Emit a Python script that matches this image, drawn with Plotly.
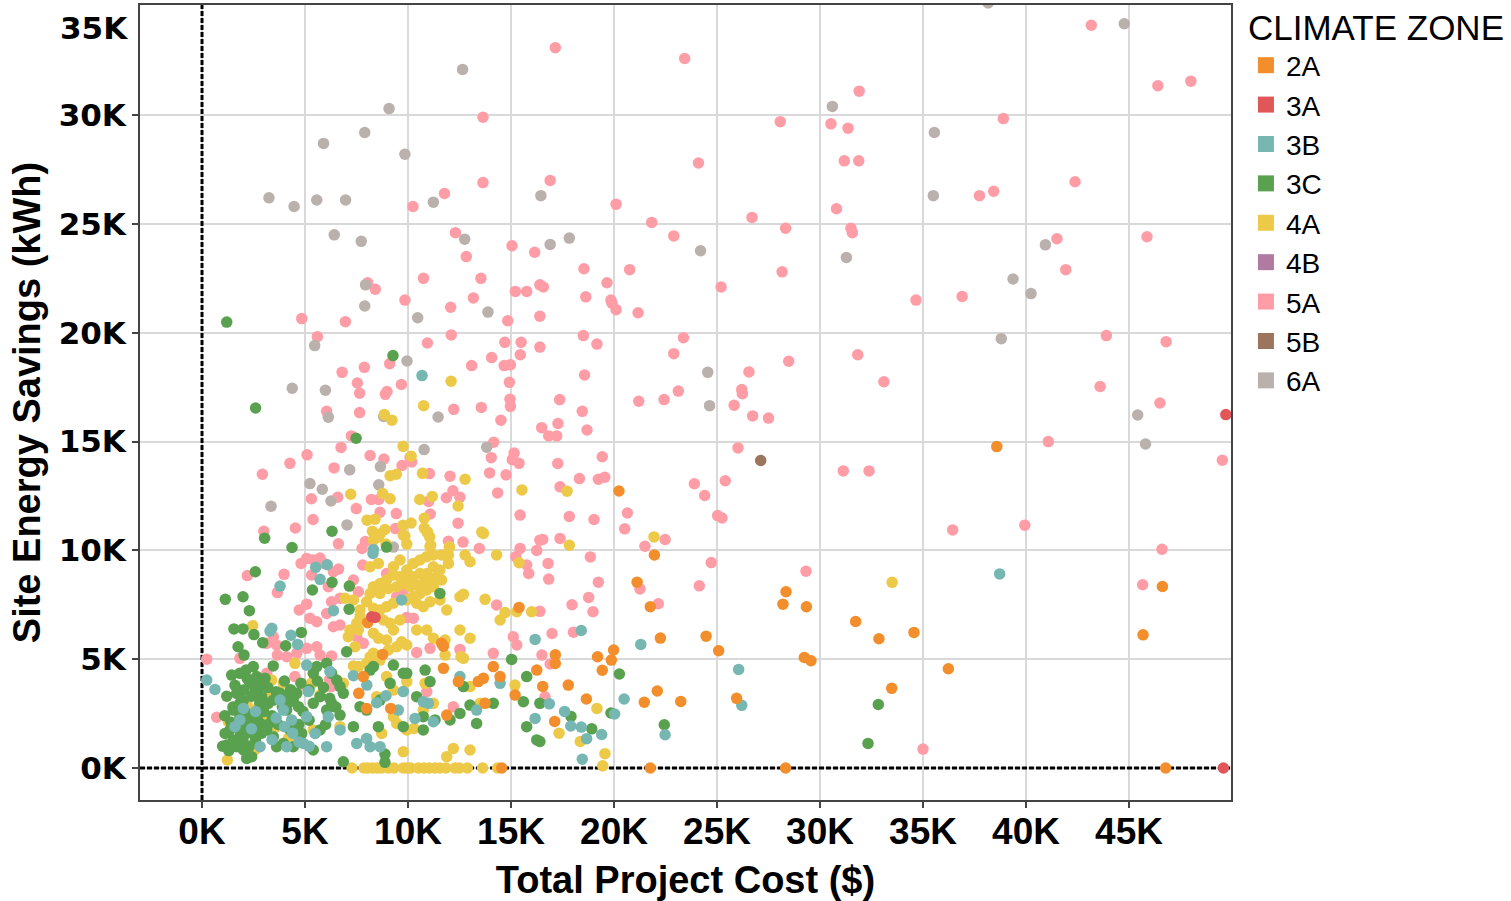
import plotly.graph_objects as go

# Site energy savings vs. total project cost, in thousands ($K, kWh K), by climate zone
zone_2a = [(38.58, 14.77), (46.62, 8.34), (45.68, 6.12), (36.23, 4.56), (46.78, 0.0), (20.24, 12.73),
           (21.96, 9.79), (21.12, 8.54), (28.35, 8.1), (28.2, 7.53), (29.34, 7.41), (21.76, 7.41),
           (31.73, 6.73), (32.86, 5.94), (34.56, 6.23), (22.25, 5.97), (24.47, 6.06), (25.08, 5.39),
           (17.15, 5.2), (17.15, 4.8), (19.2, 5.11), (19.98, 5.42), (19.87, 4.96), (19.43, 4.49),
           (29.24, 5.08), (29.56, 4.93), (33.48, 3.66), (16.54, 3.75), (17.78, 3.81), (18.66, 3.17),
           (22.1, 3.54), (23.24, 3.06), (21.47, 3.02), (25.95, 3.2), (17.12, 2.14), (21.76, 0.0),
           (28.33, 0.0), (15.39, 7.38), (8.04, 6.68), (11.63, 5.73), (11.72, 5.6), (8.77, 5.22),
           (11.72, 4.58), (14.14, 4.66), (14.47, 4.2), (13.66, 4.12), (13.41, 3.97), (12.44, 3.97),
           (15.2, 3.35), (13.74, 2.97), (11.88, 2.43), (9.16, 2.74), (7.99, 2.74), (7.61, 3.43),
           (7.83, 4.2), (16.25, 4.5), (14.55, 0.0)]

zone_3a = [(49.7, 16.24), (49.58, 0.0), (8.24, 6.95), (8.4, 6.92)]

zone_3b = [(10.68, 18.03), (38.72, 8.92), (18.41, 6.32), (21.3, 5.68), (26.05, 4.53), (20.49, 3.17),
           (26.2, 2.88), (16.86, 2.95), (17.6, 2.6), (20.03, 2.48), (17.9, 1.93), (18.41, 1.88),
           (19.4, 1.54), (18.67, 1.35), (22.48, 1.53), (18.46, 0.4), (8.32, 10.04), (8.3, 9.86),
           (5.52, 9.22), (6.08, 9.34), (5.73, 8.67), (3.79, 8.36), (6.38, 7.23), (3.39, 6.42),
           (3.3, 6.29), (4.32, 6.1), (4.64, 5.68), (9.69, 7.72), (0.23, 4.04), (0.63, 3.61),
           (5.08, 4.73), (5.16, 3.51), (6.21, 4.43), (7.35, 4.24), (8.0, 3.81), (8.48, 3.0),
           (8.93, 3.32), (9.77, 3.51), (10.74, 3.05), (10.99, 2.97), (11.23, 2.13), (10.34, 2.28),
           (9.53, 2.66), (12.52, 4.2), (13.33, 2.66), (14.47, 3.89), (16.17, 2.28), (16.17, 5.91),
           (3.79, 3.12), (3.95, 2.66), (4.35, 2.21), (5.08, 2.36), (5.49, 1.59), (6.13, 2.36),
           (6.7, 1.75), (6.05, 0.98), (4.92, 1.13), (4.11, 0.98), (2.82, 0.98), (1.84, 2.21),
           (2.01, 2.74), (1.6, 1.9), (7.51, 1.13), (8.16, 0.98), (8.64, 0.98), (7.99, 1.36),
           (4.0, 1.9), (4.4, 1.6), (4.7, 1.2), (5.2, 1.0), (3.6, 2.3), (3.4, 1.3), (2.6, 2.6),
           (2.4, 1.8)]

zone_3c = [(1.2, 20.49), (9.27, 18.95), (2.6, 16.54), (7.48, 15.15), (3.04, 10.56), (6.31, 10.88),
           (4.37, 10.13), (8.96, 10.15), (20.26, 4.32), (32.83, 2.92), (16.4, 2.97), (17.91, 2.37),
           (19.85, 2.53), (18.92, 1.8), (16.4, 1.22), (22.44, 1.99), (32.33, 1.13),
           (2.59, 9.02), (6.31, 8.53), (5.36, 8.18), (7.15, 8.36), (1.13, 7.75), (1.99, 7.87),
           (2.3, 7.23), (1.55, 6.39), (1.99, 6.39), (2.52, 6.13), (1.75, 5.57), (2.95, 5.76),
           (2.04, 5.19), (4.06, 5.62), (4.82, 6.23), (7.02, 5.34), (7.14, 7.3), (11.55, 8.02),
           (15.03, 4.99), (1.44, 4.27), (1.84, 4.35), (2.14, 4.5), (2.49, 4.66), (2.65, 4.2),
           (2.33, 3.89), (2.01, 3.58), (1.68, 3.43), (2.57, 3.58), (2.82, 3.74), (3.06, 4.12),
           (3.46, 4.69), (2.9, 3.28), (3.22, 2.97), (3.46, 3.12), (3.79, 3.43), (4.11, 3.28),
           (4.43, 3.12), (4.68, 2.82), (4.6, 3.43), (1.84, 2.97), (1.52, 2.66), (1.84, 2.36),
           (2.17, 2.51), (2.33, 2.13), (2.57, 2.36), (2.82, 2.05), (2.49, 1.75), (2.17, 1.59),
           (1.84, 1.44), (1.52, 1.29), (1.2, 1.06), (1.12, 1.59), (1.36, 1.75), (1.68, 0.98),
           (2.01, 0.83), (2.17, 0.44), (2.41, 0.52), (3.14, 1.75), (3.46, 1.44), (3.62, 0.98),
           (3.95, 1.13), (4.27, 1.75), (4.84, 1.59), (4.11, 2.66), (5.4, 2.97), (5.73, 3.28),
           (5.4, 4.35), (5.57, 4.66), (6.05, 4.81), (6.29, 4.35), (6.54, 4.04), (6.7, 3.74),
           (6.86, 3.43), (6.05, 2.66), (6.29, 2.97), (8.16, 4.5), (8.32, 4.66), (9.13, 3.89),
           (9.29, 4.73), (9.77, 4.35), (9.94, 4.35), (10.83, 4.5), (11.07, 3.97), (10.42, 3.28),
           (10.74, 2.36), (9.77, 1.9), (8.56, 1.9), (7.35, 1.9), (7.67, 2.82), (7.99, 2.66),
           (8.64, 3.12), (5.73, 1.75), (5.4, 0.83), (4.43, 0.98), (12.04, 2.21), (12.52, 2.51),
           (13.01, 2.89), (13.33, 2.05), (14.14, 2.97), (15.6, 3.05), (15.76, 1.9), (16.25, 1.29),
           (15.76, 4.2), (12.69, 3.74), (11.31, 2.21), (10.74, 1.75), (6.86, 0.29), (8.88, 0.26),
           (8.88, 0.64), (6.7, 2.43), (1.0, 1.0), (1.3, 0.8), (1.6, 1.1), (2.0, 1.2), (2.3, 1.0),
           (2.6, 1.3), (2.9, 1.6), (3.2, 2.0), (2.7, 2.2), (2.2, 2.0), (1.8, 1.8), (1.4, 2.1),
           (1.1, 2.4), (1.5, 2.8), (2.0, 3.1), (2.4, 3.3), (2.8, 3.0), (3.0, 2.6), (3.4, 2.4),
           (3.7, 2.0), (1.2, 3.3), (1.6, 3.8), (2.2, 4.1), (2.7, 4.0), (3.2, 3.7), (3.6, 3.5),
           (4.0, 4.0), (4.3, 3.6), (4.8, 3.9), (5.2, 3.6), (5.6, 4.0), (5.9, 3.7), (6.2, 3.2),
           (6.5, 2.8), (6.0, 2.0), (5.2, 2.2), (4.7, 2.0), (4.9, 2.6), (3.9, 2.8), (4.2, 3.0)]

zone_4a = [(17.72, 12.72), (17.83, 10.24), (21.94, 10.62), (33.5, 8.53), (19.17, 2.74), (18.36, 1.22),
           (17.33, 1.6), (19.56, 0.66), (19.45, 0.1), (12.09, 17.77), (8.85, 16.24), (9.22, 15.98),
           (10.76, 16.65), (9.76, 14.78), (10.15, 14.33), (10.7, 13.54), (9.13, 13.43), (9.43, 13.5),
           (12.77, 13.27), (15.53, 12.78), (7.22, 12.58), (8.77, 12.61), (9.13, 12.37), (10.57, 12.34),
           (11.18, 12.48), (12.43, 12.04), (10.79, 11.48), (8.01, 11.39), (8.4, 11.43), (9.76, 11.16),
           (10.15, 11.26), (10.79, 11.02), (8.27, 10.88), (8.88, 10.96), (8.56, 10.62), (9.77, 10.7),
           (10.94, 10.85), (11.05, 10.62), (11.07, 10.18), (12.01, 10.16), (13.58, 10.84),
           (7.28, 0.0), (7.86, 0.0), (8.04, 0.0), (8.28, 0.0), (8.51, 0.0), (8.72, 0.0), (9.05, 0.0),
           (9.32, 0.0), (9.77, 0.0), (9.94, 0.0), (10.13, 0.0), (10.5, 0.0), (10.78, 0.0), (11.04, 0.0),
           (11.31, 0.0), (11.55, 0.0), (11.84, 0.0), (12.28, 0.0), (12.49, 0.0), (12.88, 0.0),
           (13.62, 0.0), (14.35, 0.0),
           (8.64, 10.75), (8.32, 10.47), (8.93, 10.29), (9.85, 10.66), (9.94, 10.29), (10.94, 10.81),
           (11.1, 10.24), (12.01, 10.14), (11.96, 9.79), (12.77, 9.79), (13.01, 9.48), (13.66, 10.78),
           (14.3, 9.79), (15.39, 9.43), (8.16, 9.25), (8.56, 9.4), (9.29, 9.25), (9.61, 9.56),
           (9.94, 9.1), (10.26, 9.4), (10.58, 9.56), (10.91, 9.71), (11.23, 9.79), (11.63, 9.79),
           (11.96, 9.4), (11.55, 9.1), (11.23, 9.25), (10.91, 8.94), (10.58, 8.94), (10.26, 8.79),
           (9.94, 8.64), (9.61, 8.79), (9.29, 8.87), (8.96, 8.64), (8.64, 8.48), (8.32, 8.33),
           (8.16, 8.02), (8.64, 8.02), (9.05, 8.25), (9.45, 8.33), (9.77, 8.48), (10.1, 8.33),
           (10.42, 8.41), (10.74, 8.48), (11.07, 8.64), (11.39, 8.79), (11.63, 8.64), (11.23, 8.33),
           (10.91, 8.18), (10.58, 8.02), (10.26, 7.87), (9.94, 7.72), (10.42, 7.57), (10.74, 7.41),
           (11.07, 7.64), (11.55, 7.72), (11.88, 7.26), (12.52, 7.87), (12.69, 7.98), (9.29, 7.57),
           (8.96, 7.41), (8.64, 7.26), (8.32, 7.34), (7.99, 7.64), (7.67, 7.26), (7.35, 7.72),
           (6.94, 7.8), (7.67, 6.95), (7.51, 6.65), (7.18, 6.34), (7.1, 6.03), (7.43, 5.57),
           (7.59, 6.34), (8.32, 6.19), (8.56, 5.96), (8.96, 5.88), (9.29, 6.34), (9.05, 5.42),
           (9.45, 5.57), (9.69, 5.8), (9.94, 5.65), (10.42, 6.34), (10.91, 6.34), (11.23, 5.96),
           (11.8, 5.88), (12.52, 6.34), (13.01, 5.96), (11.8, 5.19), (12.57, 5.11), (12.69, 5.04),
           (8.16, 5.11), (8.32, 5.27), (8.64, 4.96), (7.35, 4.69), (7.59, 4.66), (7.99, 4.81),
           (9.13, 6.65), (9.61, 6.8), (8.8, 6.8), (13.74, 7.75), (14.47, 6.8), (14.71, 7.14),
           (15.28, 7.18), (16.0, 7.18), (2.46, 6.54), (4.51, 4.81), (1.23, 0.37), (13.01, 0.83),
           (12.2, 0.9), (11.88, 0.52), (9.77, 0.75), (9.94, 1.75), (10.29, 1.82), (9.45, 2.05),
           (8.72, 1.59), (8.48, 3.28), (8.96, 4.2), (9.29, 3.58), (9.94, 3.97), (10.83, 3.89),
           (15.19, 3.81), (13.5, 2.97), (9.29, 2.36), (10.74, 2.66), (11.23, 2.97), (5.4, 1.75),
           (4.19, 1.36), (3.62, 1.9), (2.98, 2.28), (2.49, 2.66), (2.17, 2.97), (1.28, 2.13),
           (2.57, 0.83), (2.0, 0.98), (3.38, 4.04), (3.14, 3.43), (3.95, 3.89), (5.32, 3.89),
           (5.73, 3.35), (6.86, 3.89), (6.7, 1.9), (13.01, 3.74)]

zone_4b = []

zone_5a = [(13.64, 29.9), (13.64, 26.9), (10.24, 25.8), (11.77, 26.4), (12.3, 24.6), (12.83, 23.5),
           (15.05, 24.0), (16.15, 23.7), (10.75, 22.5), (13.54, 22.5), (8.04, 22.3), (8.41, 22.0),
           (9.85, 21.5), (13.17, 21.6), (15.21, 21.9), (15.76, 21.9), (16.4, 22.2),
           (17.15, 33.1), (23.43, 32.6), (31.9, 31.1), (28.07, 29.7), (30.53, 29.6), (31.36, 29.4),
           (24.1, 27.8), (31.18, 27.9), (31.88, 27.9), (16.9, 27.0), (20.1, 25.9), (30.8, 25.7),
           (21.83, 25.07), (26.7, 25.3), (28.33, 24.8), (31.5, 24.8), (31.57, 24.6), (22.9, 24.45),
           (18.54, 22.94), (20.76, 22.9), (28.16, 22.8), (19.66, 22.3), (16.57, 22.1), (25.2, 22.1),
           (18.63, 21.65), (19.85, 21.5), (34.66, 21.5),
           (43.17, 34.13), (46.4, 31.35), (48.0, 31.56), (38.9, 29.84), (42.38, 26.94), (37.74, 26.3),
           (38.43, 26.5), (41.5, 24.32), (45.87, 24.41), (41.93, 22.9), (36.9, 21.67),
           (43.9, 19.87), (46.8, 19.59), (43.6, 17.53), (46.5, 16.77), (41.08, 15.0), (49.53, 14.14),
           (36.44, 10.94), (39.94, 11.16), (46.6, 10.05), (45.66, 8.42), (35.0, 0.87),
           (16.4, 20.76), (19.9, 21.36), (20.1, 21.06), (21.17, 20.92), (18.51, 19.87), (19.17, 19.48),
           (23.37, 19.77), (22.9, 19.04), (26.55, 18.2), (28.48, 18.69), (31.83, 18.99), (33.1, 17.75),
           (18.57, 18.06), (16.4, 19.34), (17.36, 16.93), (23.12, 17.32), (22.43, 16.93), (21.2, 16.85),
           (26.2, 17.39), (26.23, 17.2), (25.83, 16.67), (26.73, 16.18), (27.5, 16.08), (18.46, 16.39),
           (17.28, 15.83), (16.49, 15.64), (16.83, 15.26), (17.22, 15.26), (18.69, 15.53), (26.02, 14.71),
           (31.13, 13.65), (32.38, 13.65), (17.27, 13.99), (19.43, 14.3), (18.32, 13.3), (19.24, 13.27),
           (19.55, 13.36), (17.38, 12.92), (23.9, 13.06), (25.4, 13.2), (24.4, 12.52), (17.83, 11.56),
           (19.03, 11.42), (20.65, 11.72), (20.52, 10.99), (25.03, 11.6), (25.24, 11.49), (16.54, 10.5),
           (17.38, 10.55), (22.48, 10.5), (21.5, 10.19),
           (18.85, 9.7), (16.8, 9.4), (24.72, 9.44), (29.32, 9.04), (16.83, 8.68), (19.24, 8.54),
           (21.26, 8.23), (24.14, 8.37), (18.77, 7.84), (17.96, 7.5), (18.98, 7.18), (22.15, 7.55),
           (16.4, 7.2), (16.99, 6.18), (18.03, 6.24), (16.5, 5.19), (16.9, 4.78), (16.65, 3.27),
           (4.84, 20.65), (6.96, 20.51), (12.07, 21.17), (14.84, 20.55), (5.6, 19.82), (12.1, 19.9),
           (10.94, 19.53), (14.7, 19.56), (15.49, 19.56), (15.45, 18.99), (9.11, 18.58), (7.88, 18.41),
           (6.8, 18.18), (14.06, 18.86), (13.09, 18.49), (14.67, 18.49), (14.97, 18.53), (14.92, 17.72),
           (7.54, 17.69), (8.98, 17.3), (8.9, 17.17), (9.68, 17.62), (7.65, 17.22), (6.05, 16.39),
           (7.65, 16.33), (12.22, 16.48), (13.56, 16.57), (14.95, 16.95), (14.97, 16.62), (14.51, 15.98),
           (7.25, 15.26), (14.16, 14.97), (6.75, 14.73), (5.1, 14.39), (8.16, 14.36), (8.83, 14.2),
           (10.1, 14.26), (9.71, 13.9), (10.18, 14.06), (14.04, 14.26), (15.15, 14.47), (15.06, 14.17),
           (15.39, 14.0), (4.27, 14.0), (2.93, 13.5), (6.41, 13.79), (11.04, 13.53), (12.04, 13.41),
           (13.96, 13.56), (14.76, 13.47), (5.31, 12.37), (6.59, 12.44), (8.22, 12.34), (8.58, 12.34),
           (11.0, 12.25), (11.86, 12.42), (12.18, 12.74), (12.52, 12.44), (14.35, 12.64), (7.49, 11.92),
           (8.64, 11.75), (9.43, 11.69), (11.08, 11.67), (15.44, 11.62), (5.39, 11.42), (4.53, 11.03),
           (12.43, 11.25), (3.0, 10.88), (6.62, 10.3), (7.93, 10.41), (7.77, 10.09), (9.39, 11.0),
           (11.96, 10.42), (12.67, 10.38), (15.44, 10.09), (16.4, 10.47), (13.46, 10.09),
           (15.23, 9.71), (15.76, 9.33), (15.86, 8.94), (16.25, 10.0), (2.2, 8.84), (3.98, 8.9),
           (3.66, 8.06), (4.81, 9.4), (5.08, 9.63), (5.4, 9.56), (5.73, 9.65), (5.92, 9.4), (6.38, 9.02),
           (6.63, 9.14), (5.32, 8.87), (6.13, 8.33), (7.35, 8.64), (7.59, 8.1), (7.8, 9.33), (8.96, 8.94),
           (9.45, 7.87), (9.77, 8.15), (9.94, 6.92), (10.26, 6.88), (4.72, 7.26), (5.08, 7.53),
           (5.24, 6.88), (5.57, 6.72), (6.38, 6.49), (6.7, 6.57), (6.05, 7.1), (6.29, 7.64), (6.7, 7.8),
           (3.46, 6.03), (3.62, 5.65), (3.14, 5.73), (4.11, 5.11), (4.6, 5.27), (5.08, 5.5), (5.57, 5.57),
           (5.73, 5.19), (6.29, 5.15), (3.66, 5.19), (1.84, 5.04), (7.51, 6.03), (7.83, 5.73),
           (10.42, 5.31), (11.07, 5.5), (12.52, 5.45), (14.14, 5.27), (15.28, 5.65), (15.11, 6.03),
           (14.3, 7.49), (0.23, 5.0), (0.71, 2.33), (4.51, 4.2), (5.08, 3.74), (6.18, 4.04), (6.28, 3.74),
           (3.14, 4.35), (10.91, 3.51), (12.2, 2.82)]

zone_5b = [(27.12, 14.13)]

zone_6a = [(12.65, 32.1), (9.08, 30.3), (7.9, 29.2), (5.9, 28.7), (9.85, 28.2), (3.25, 26.2), (4.47, 25.8),
           (5.57, 26.1), (6.97, 26.1), (11.23, 26.0), (16.45, 26.3), (6.42, 24.5), (7.73, 24.2),
           (12.75, 24.3), (7.94, 22.2), (30.6, 30.4), (35.55, 29.2), (35.5, 26.3), (16.9, 24.06),
           (17.83, 24.35), (24.2, 23.77), (31.28, 23.46), (38.16, 35.15), (44.77, 34.2), (40.94, 24.04),
           (39.37, 22.47), (40.24, 21.8), (38.8, 19.73), (45.42, 16.22), (45.8, 14.89), (7.9, 21.23),
           (10.47, 20.69), (13.88, 20.95), (5.47, 19.41), (9.95, 18.7), (24.55, 18.18), (24.64, 16.65),
           (4.38, 17.45), (5.99, 17.36), (6.13, 16.12), (8.82, 16.15), (11.46, 16.13), (13.82, 14.74),
           (10.78, 14.63), (8.66, 13.85), (7.17, 13.7), (5.24, 13.07), (5.84, 12.81), (8.58, 13.01),
           (6.26, 12.27), (3.35, 12.03), (7.04, 11.17), (9.29, 10.15)]

zone_names = ["2A", "3A", "3B", "3C", "4A", "4B", "5A", "5B", "6A"]
zone_points = [zone_2a, zone_3a, zone_3b, zone_3c, zone_4a, zone_4b, zone_5a, zone_5b, zone_6a]
zone_colors = ["#F28E2B", "#E15759", "#76B7B2", "#59A14F", "#EDC948",
               "#B07AA1", "#FF9DA7", "#9C755F", "#BAB0AC"]
draw_order = ["5A", "6A", "4A", "3C", "3B", "2A", "5B", "3A", "4B"]

x_range = [-3.01, 49.95]
y_range = [-1.47, 35.06]
x_ticks = [0, 5, 10, 15, 20, 25, 30, 35, 40, 45]
y_ticks = [0, 5, 10, 15, 20, 25, 30]

fig = go.Figure()

# dashed reference lines at zero cost / zero savings, kept above the grid and under the points
zero_line = dict(color="black", width=3, dash="5px,2px")
fig.add_trace(go.Scatter(x=[0, 0], y=y_range, mode="lines", line=zero_line,
                         showlegend=False, hoverinfo="skip"))
fig.add_trace(go.Scatter(x=x_range, y=[0, 0], mode="lines", line=zero_line,
                         showlegend=False, hoverinfo="skip"))

for name in draw_order:
    i = zone_names.index(name)
    pts = zone_points[i]
    fig.add_trace(go.Scatter(
        x=[p[0] for p in pts], y=[p[1] for p in pts],
        mode="markers", name=name, showlegend=False,
        marker=dict(color=zone_colors[i], size=11.5, line=dict(width=0)),
    ))

# legend entries drawn as squares
for name, color in zip(zone_names, zone_colors):
    fig.add_trace(go.Scatter(
        x=[None], y=[None], mode="markers", name=name, showlegend=True,
        marker=dict(color=color, size=16, symbol="square", line=dict(width=0)),
    ))

label_font = "Liberation Sans, Arial"

fig.update_layout(
    width=1511, height=901,
    margin=dict(l=140, r=280, t=5, b=101, autoexpand=False),
    paper_bgcolor="white", plot_bgcolor="white",
    font=dict(family=label_font, color="black"),
    xaxis=dict(
        range=x_range, tickvals=x_ticks, ticktext=[f"{v}K" for v in x_ticks],
        showgrid=True, gridcolor="#d9d9d9", gridwidth=1.5, zeroline=False,
        showline=True, mirror=True, linecolor="#444", linewidth=2,
        ticks="outside", ticklen=6, tickwidth=1.5, tickcolor="#444",
        ticklabelstandoff=-8,
        tickfont=dict(family=label_font, size=37, weight="bold", color="black"),
        title=dict(text="Total Project Cost ($)", standoff=22,
                   font=dict(family=label_font, size=38, weight="bold", color="black")),
    ),
    yaxis=dict(
        range=y_range, tickvals=y_ticks, ticktext=[f"{v}K" for v in y_ticks],
        showgrid=True, gridcolor="#d9d9d9", gridwidth=1.5, zeroline=False,
        showline=True, mirror=True, linecolor="#444", linewidth=2,
        ticks="outside", ticklen=6, tickwidth=1.5, tickcolor="#444",
        tickfont=dict(family="DejaVu Sans", size=31, weight="bold", color="black"),
        title=dict(text="Site Energy Savings (kWh)", standoff=6,
                   font=dict(family=label_font, size=38, weight="bold", color="black")),
    ),
    legend=dict(
        x=1.0137, xanchor="left", y=1.0126, yanchor="top",
        title=dict(text="CLIMATE ZONE", font=dict(family=label_font, size=35)),
        font=dict(family=label_font, size=28, color="black"),
        itemsizing="trace", bgcolor="rgba(0,0,0,0)",
    ),
    annotations=[dict(
        text="35K", xref="paper", yref="paper", x=-0.009, y=0.971,
        xanchor="right", yanchor="middle", showarrow=False,
        font=dict(family="DejaVu Sans", size=31, weight="bold", color="black"),
    )],
)

fig.write_html("out.html")
